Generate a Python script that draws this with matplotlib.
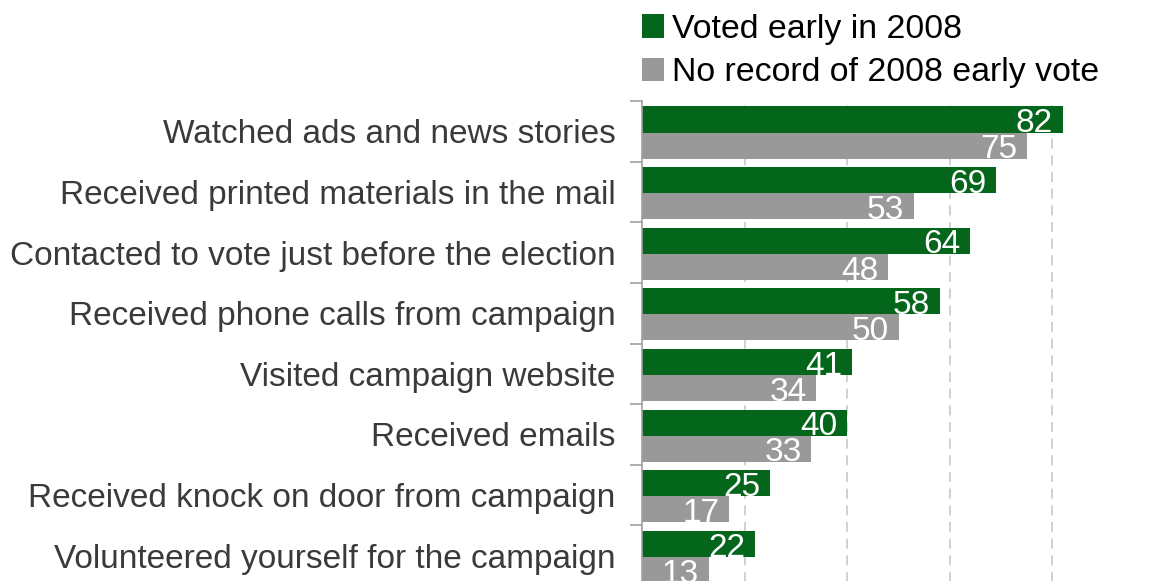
import matplotlib
matplotlib.use("Agg")
import matplotlib.pyplot as plt
import numpy as np

plt.rcParams['font.family'] = ['Liberation Sans', 'DejaVu Sans']

categories = [
    "Watched ads and news stories",
    "Received printed materials in the mail",
    "Contacted to vote just before the election",
    "Received phone calls from campaign",
    "Visited campaign website",
    "Received emails",
    "Received knock on door from campaign",
    "Volunteered yourself for the campaign",
]
voted_early = [82, 69, 64, 58, 41, 40, 25, 22]
no_record = [75, 53, 48, 50, 34, 33, 17, 13]
series_names = ["Voted early in 2008", "No record of 2008 early vote"]

GREEN = "#04661a"
GRAY = "#999999"
W, H = 1172, 581

fig = plt.figure(figsize=(W / 100, H / 100), dpi=100)
ax_bottom_px = 586
ax_top_px = 101
ax = fig.add_axes([642 / W, (H - ax_bottom_px) / H, (1155 - 642) / W,
                   (ax_bottom_px - ax_top_px) / H])

n = len(categories)
idx = np.arange(n)
bh = 0.43
y_green = idx + 0.305
y_gray = idx + 0.735

b1 = ax.barh(y_green, voted_early, height=bh, color=GREEN, label=series_names[0], zorder=2)
b2 = ax.barh(y_gray, no_record, height=bh, color=GRAY, label=series_names[1], zorder=2)

for bars, vals in ((b1, voted_early), (b2, no_record)):
    for rect, v in zip(bars, vals):
        ax.annotate(str(v), xy=(v, rect.get_y() + rect.get_height() / 2),
                    xytext=(-7, -0.5), textcoords="offset points",
                    ha="right", va="center_baseline", color="white",
                    fontsize=24, zorder=3, annotation_clip=False)

ax.set_xlim(0, 100)
ax.set_ylim(n, 0)

ax.set_xticks([20, 40, 60, 80])
ax.xaxis.grid(True, color="#c8c8c8", linestyle=(0, (6, 4)), linewidth=1.2, zorder=0)
ax.tick_params(axis="x", length=0, labelbottom=False)

ax.set_yticks(np.arange(n + 1))
ax.set_yticklabels([])
ax.tick_params(axis="y", which="major", length=9, width=1.2, color="#a0a0a0", direction="out")
ax.set_yticks(idx + 0.5, minor=True)
ax.set_yticklabels(categories, minor=True, fontsize=24, color="#3a3a3a")
ax.tick_params(axis="y", which="minor", length=0, pad=19)

for s in ("top", "right", "bottom"):
    ax.spines[s].set_visible(False)
ax.spines["left"].set_color("#a0a0a0")
ax.spines["left"].set_linewidth(1.2)

fig.legend(handles=[b1, b2], labels=series_names, loc="upper left",
           bbox_to_anchor=(642 / W, 1 - 14 / H), frameon=False, fontsize=24.4,
           handlelength=0.65, handleheight=0.68, handletextpad=0.24,
           labelspacing=0.36, borderpad=0, borderaxespad=0, labelcolor="black")

fig.savefig("out.png", dpi=100)
